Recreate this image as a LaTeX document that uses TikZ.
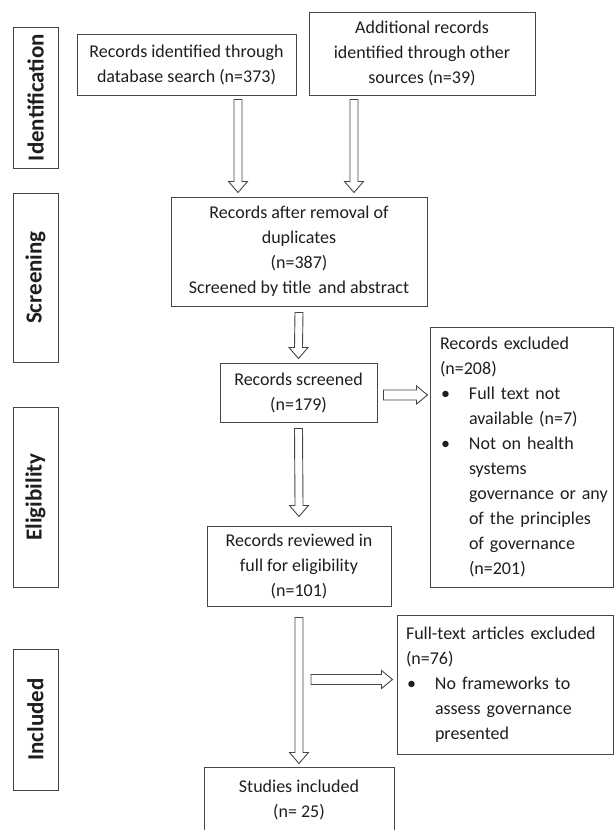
\documentclass[tikz,border=0pt]{standalone}
\usepackage{fontspec}
\setmainfont{Carlito}
\usepackage{tikz}
\usetikzlibrary{calc,positioning}
\definecolor{frameGray}{RGB}{70,70,70}
\definecolor{textGray}{RGB}{30,30,30}
\newcommand{\bulitem}{\makebox[29pt][l]{\hspace{1pt}\textbullet}}
\newcommand{\bulcont}{\hspace*{29pt}}
\newcommand{\hollowdown}[2]{\draw[hollow] ($(#1)+(-4,0)$) -- ($(#2)+(-4,-11)$) -- ($(#2)+(-9.5,-11)$) -- (#2) -- ($(#2)+(9.5,-11)$) -- ($(#2)+(4,-11)$) -- ($(#1)+(4,0)$) -- cycle;}
\newcommand{\hollowright}[2]{\draw[hollow] ($(#1)+(0,-5)$) -- ($(#2)+(-11,-5)$) -- ($(#2)+(-11,-9)$) -- (#2) -- ($(#2)+(-11,9)$) -- ($(#2)+(-11,5)$) -- ($(#1)+(0,5)$) -- cycle;}

\begin{document}
\begin{tikzpicture}[
    x=1pt, y=-1pt,
    box/.style={draw=frameGray, line width=1pt, inner sep=0pt, text=textGray,
      font=\fontsize{18}{25}\selectfont, align=center},
    listbox/.style={box, align=left, inner xsep=#1},
    side/.style={draw=frameGray, line width=1pt, inner sep=0pt, text=textGray,
      minimum width=45pt},
    sidetext/.style={rotate=90, text=textGray, font=\bfseries\fontsize{23}{23}\selectfont},
    hollow/.style={draw=frameGray, line width=0.9pt, fill=white, line join=miter}
  ]
  \useasboundingbox (0,0) rectangle (614,830);
  \clip (0,0) rectangle (614,830);

  % stage labels on the left
  \node[side, minimum height=141pt] (idn) at (35.5,97.5) {};
  \node[sidetext] at (idn) {Identification};
  \node[side, minimum height=169pt] (scn) at (35.5,277.5) {};
  \node[sidetext] at (scn) {Screening};
  \node[side, minimum height=180pt] (elg) at (35.5,497) {};
  \node[sidetext] at (elg) {Eligibility};
  \node[side, minimum height=141pt] (inc) at (35.5,719.5) {};
  \node[sidetext] at (inc) {Included};

  % flow boxes
  \node[box, minimum width=219pt, minimum height=61pt] (idA) at (186.5,64.5)
    {Records identified through\\database search (n=373)};
  \node[box, minimum width=226pt, minimum height=83pt] (idB) at (422,53.5)
    {Additional records\\identified through other\\sources (n=39)};
  \node[box, minimum width=256pt, minimum height=109pt] (dup) at (299,251.5)
    {Records after removal of\\duplicates\\(n=387)\\Screened by title\, and abstract};
  \node[box, minimum width=157pt, minimum height=59pt] (scr) at (298.5,392.5)
    {Records screened\\(n=179)};
  \node[listbox=10pt, text width=163.5pt, minimum height=260pt] (exc1) at (521.75,457)
    {Records excluded\\(n=208)\\
     \bulitem Full text not\\\bulcont available (n=7)\\
     \bulitem Not on health\\\bulcont systems\\\bulcont\mbox{governance or any}\\
     \bulcont of the principles\\\bulcont of governance\\\bulcont (n=201)};
  \node[box, minimum width=184pt, minimum height=80pt] (full) at (299,566)
    {Records reviewed in\\full for eligibility\\(n=101)};
  \node[listbox=9pt, text width=198.5pt, minimum height=139pt] (exc2) at (505.25,684.5)
    {Full-text articles excluded\\(n=76)\\
     \bulitem No frameworks to\\\bulcont assess governance\\\bulcont presented};
  \node[box, minimum width=190pt, minimum height=66pt] (incl) at (299,800)
    {Studies included\\(n= 25)};

  % connector ends
  \coordinate (aTop) at ($(idA.south)+(51.5,4)$);
  \coordinate (aTip) at ($(aTop |- dup.north)+(0,-4)$);
  \coordinate (bTop) at ($(idB.south)+(-68,4)$);
  \coordinate (bTip) at ($(bTop |- dup.north)+(0,-4)$);
  \coordinate (sTail) at ($(full.south)+(12,73)$);

  \hollowdown{aTop}{aTip}
  \hollowdown{bTop}{bTip}
  \hollowdown{$(dup.south)+(0,6)$}{$(scr.north)+(0,-4)$}
  \hollowright{$(scr.east)+(6,2.5)$}{$(scr.east -| exc1.west)+(-2,2.5)$}
  \hollowdown{$(scr.south)+(0,6)$}{$(full.north)+(0,-9)$}
  \hollowdown{$(full.south)+(0,11)$}{$(incl.north)+(0,-3)$}
  \hollowright{sTail}{$(sTail -| exc2.west)+(-4,0)$}
\end{tikzpicture}
\end{document}
